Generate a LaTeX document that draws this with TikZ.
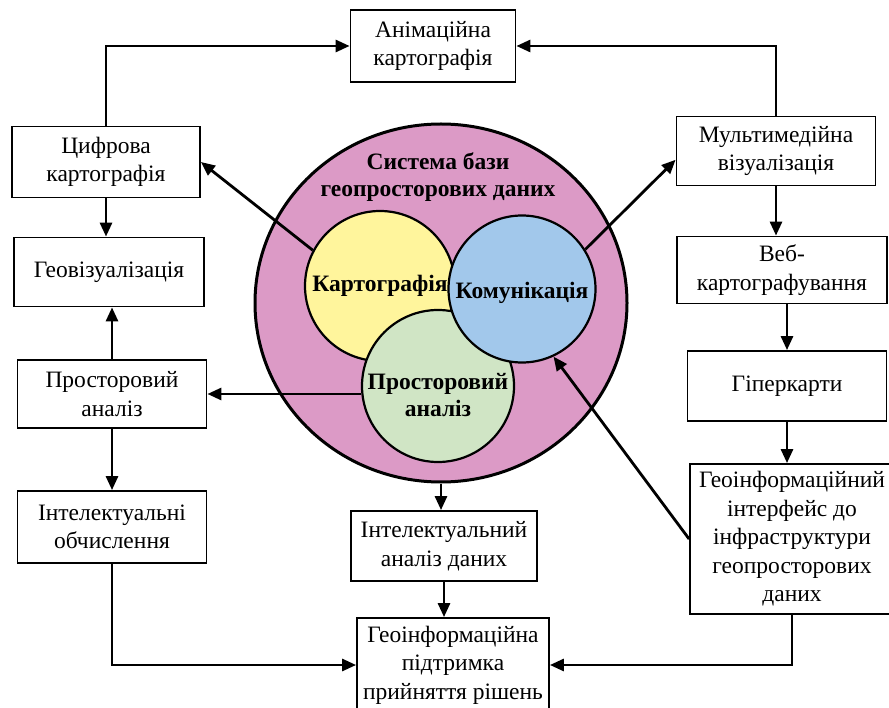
\documentclass[tikz,border=0pt]{standalone}
\usepackage{fontspec}
\setmainfont{Liberation Serif}
\usepackage{xcolor}
\definecolor{sysfill}{HTML}{DC9AC6}
\definecolor{kartfill}{HTML}{FFF59C}
\definecolor{komfill}{HTML}{A2C8EB}
\definecolor{prostfill}{HTML}{D0E5C5}
\usepackage{tikz}
\usetikzlibrary{arrows.meta,shapes.geometric}

\begin{document}
\begin{tikzpicture}[
  x=1pt,
  y=-1pt,
  blok/.style={draw, line width=1.8pt, fill=white, align=center, inner sep=2pt, font=\fontsize{23.5}{28.5}\selectfont},
  zone/.style={circle, draw, line width=2.2pt, inner sep=0pt},
  zonetext/.style={align=center, font=\fontsize{23.5}{27.5}\selectfont\bfseries},
  conn/.style={line width=2.8pt, -{Triangle[length=14pt,width=12pt]}},
]
\useasboundingbox (0,0) rectangle (889,708);

% Central system
\node[ellipse, draw, line width=3pt, fill=sysfill, minimum width=372pt, minimum height=358pt] (sys) at (441,303) {};
\node[zonetext] (systitle) at (438,177) {Система бази\\геопросторових даних};

\node[zone, fill=kartfill, minimum size=150pt,
  label={[zonetext]center:Картографія}] (kart) at (380,286) {};
\node[zone, fill=prostfill, minimum size=152pt,
  label={[zonetext, yshift=-9pt]center:Просторовий\\аналіз}] (prost) at (438,386) {};
\node[zone, fill=komfill, minimum size=147pt,
  label={[zonetext, yshift=-4pt]center:Комунікація}] (komun) at (522,289) {};

% Left column
\node[blok, minimum width=188pt, minimum height=71pt] (cyfr) at (106,162) {Цифрова\\картографія};
\node[blok, minimum width=190pt, minimum height=69pt] (geoviz) at (109,272) {Геовізуалізація};
\node[blok, minimum width=189pt, minimum height=68pt] (prostb) at (112,394) {Просторовий\\аналіз};
\node[blok, minimum width=189pt, minimum height=72pt] (intel) at (112,527) {Інтелектуальні\\обчислення};

% Middle column
\node[blok, minimum width=165pt, minimum height=72pt] (anim) at (433,46) {Анімаційна\\картографія};
\node[blok, minimum width=186pt, minimum height=70pt] (intan) at (444,546) {Інтелектуальний\\аналіз даних};
\node[blok, minimum width=192pt, minimum height=94pt] (pidtr) at (453,665) {Геоінформаційна\\підтримка\\прийняття рішень};

% Right column
\node[blok, minimum width=199pt, minimum height=69pt] (multi) at (776,151) {Мультимедійна\\візуалізація};
\node[blok, minimum width=210pt, minimum height=67pt] (veb) at (782,270) {Веб-\\картографування};
\node[blok, minimum width=199pt, minimum height=70pt] (hyper) at (787,386) {Гіперкарти};
\node[blok, minimum width=204pt, minimum height=150pt] (interf) at (792,539) {Геоінформаційний\\інтерфейс до\\інфраструктури\\геопросторових\\даних};

% Connectors
\draw[conn] (cyfr.north) |- (anim.west);
\draw[conn] (multi.north) |- (anim.east);
\draw[conn] (kart.152) -- (cyfr.east);
\draw[conn] (cyfr.south) -- (cyfr.south |- geoviz.north);
\draw[conn] (prostb.north) -- (prostb.north |- geoviz.south);
\draw[conn] (prost.west |- prostb.east) -- (prostb.east);
\draw[conn] (prostb.south) -- (intel.north);
\draw[conn] (intel.south) |- (pidtr.west);
\draw[conn] (sys.south) -- (sys.south |- intan.north);
\draw[conn] (intan.south) -- (intan.south |- pidtr.north);
\draw[conn] (komun.32) -- (multi.185);
\draw[conn] (multi.south) -- (multi.south |- veb.north);
\draw[conn] (hyper.north |- veb.south) -- (hyper.north);
\draw[conn] (hyper.south) -- (hyper.south |- interf.north);
\draw[conn] (interf.west) -- (komun.295);
\draw[conn] (interf.south) |- (pidtr.east);

\end{tikzpicture}
\end{document}
